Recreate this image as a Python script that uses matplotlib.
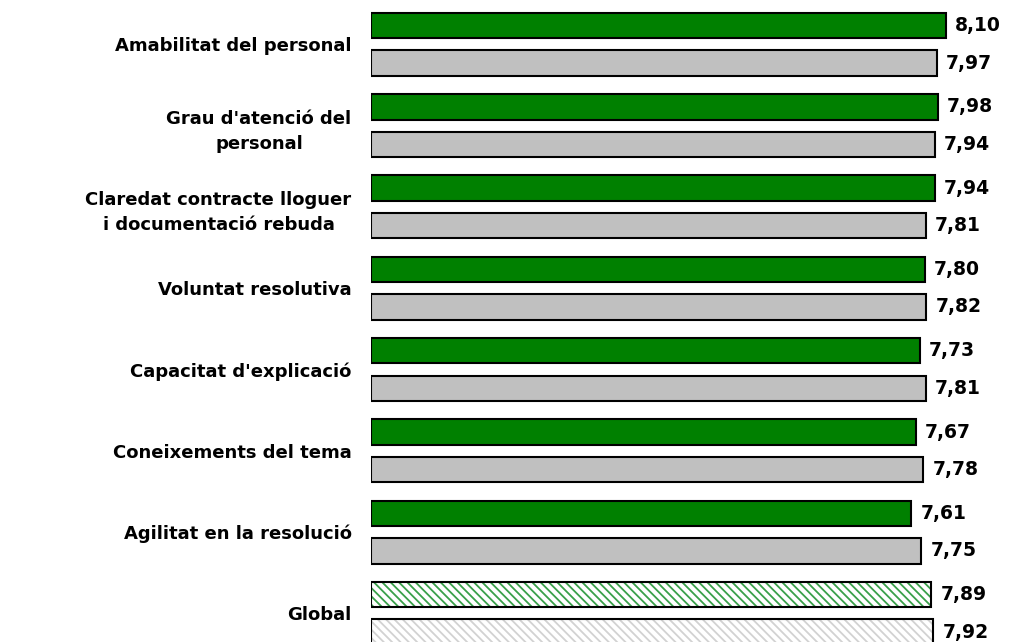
import matplotlib
matplotlib.use("Agg")
import matplotlib.pyplot as plt
import numpy as np

categories = [
    "Amabilitat del personal",
    "Grau d'atenció del\npersonal",
    "Claredat contracte lloguer\ni documentació rebuda",
    "Voluntat resolutiva",
    "Capacitat d'explicació",
    "Coneixements del tema",
    "Agilitat en la resolució",
    "Global",
]
green_values = [8.10, 7.98, 7.94, 7.80, 7.73, 7.67, 7.61, 7.89]
gray_values = [7.97, 7.94, 7.81, 7.82, 7.81, 7.78, 7.75, 7.92]

plt.rcParams['font.family'] = ['DejaVu Sans']
plt.rcParams['hatch.linewidth'] = 1.3

fig = plt.figure(figsize=(10.16, 6.42), dpi=100)
ax = fig.add_axes([371 / 1016, 0, 639 / 1016, 1])

y = np.arange(len(categories))
off = 0.231
h = 0.314
n = len(categories) - 1

# normal bars
ax.barh(y[:n] - off, green_values[:n], height=h, color='#008000',
        edgecolor='black', linewidth=1.5)
ax.barh(y[:n] + off, gray_values[:n], height=h, color='#C0C0C0',
        edgecolor='black', linewidth=1.5)

# global bars, hatched
ax.barh(y[n] - off, green_values[n], height=h, color='white',
        edgecolor='#3aa04a', hatch='\\\\\\\\', linewidth=0)
ax.barh(y[n] - off, green_values[n], height=h, fill=False,
        edgecolor='black', linewidth=1.5)
ax.barh(y[n] + off, gray_values[n], height=h, color='white',
        edgecolor='#d2d2d2', hatch='\\\\\\\\', linewidth=0)
ax.barh(y[n] + off, gray_values[n], height=h, fill=False,
        edgecolor='black', linewidth=1.5)

for i in range(len(categories)):
    ax.text(green_values[i] + 0.13, y[i] - off,
            f"{green_values[i]:.2f}".replace('.', ','),
            va='center', ha='left', fontsize=13.5, fontweight='bold')
    ax.text(gray_values[i] + 0.13, y[i] + off,
            f"{gray_values[i]:.2f}".replace('.', ','),
            va='center', ha='left', fontsize=13.5, fontweight='bold')

ax.set_xlim(0, 9)
ax.set_ylim(7.352, -0.545)
ax.set_yticks(y)
ax.set_yticklabels(categories, fontsize=13, fontweight='bold',
                   multialignment='center', linespacing=1.5)
ax.tick_params(axis='y', length=0, pad=14)
ax.set_xticks([])
for s in ax.spines.values():
    s.set_visible(False)

fig.savefig("out.png", dpi=100)
